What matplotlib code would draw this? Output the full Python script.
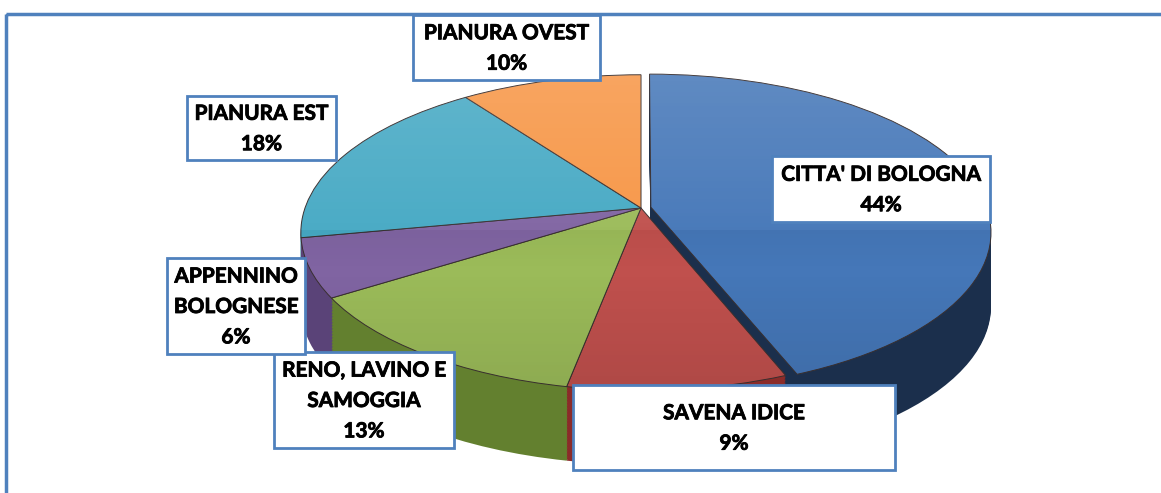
import numpy as np
import matplotlib.pyplot as plt
import matplotlib.patheffects as pe
from matplotlib.patches import Rectangle
from matplotlib.transforms import Transform, Affine2D

# data
labels = ["CITTA' DI BOLOGNA", "SAVENA IDICE", "RENO, LAVINO E\nSAMOGGIA",
          "APPENNINO\nBOLOGNESE", "PIANURA EST", "PIANURA OVEST"]
shares = [44, 9, 13, 6, 18, 10]
top_colors = ["#4577b8", "#c0504d", "#9bbb59", "#8064a2", "#46a9c4", "#f79646"]
side_colors = ["#1b2f4c", "#8b2b29", "#63802f", "#5a4378", "#2f7f96", "#b8692c"]
explode = [0.03, 0, 0, 0, 0, 0]

# label boxes in pixels (x0, y0, x1, y1)
boxes = [(772, 156, 990, 222), (573, 385, 895, 470), (274, 352, 454, 448),
         (167, 258, 305, 354), (187, 96, 336, 160), (413, 15, 600, 80)]


class Persp(Transform):
    # simple perspective tilt: back of the pie smaller than the front
    input_dims = output_dims = 2
    is_separable = False
    has_inverse = False

    def __init__(self, a):
        super().__init__()
        self.a = a

    def transform_non_affine(self, v):
        v = np.asarray(v, float)
        w = 1 + self.a * v[:, 1]
        return np.column_stack([v[:, 0] / w, v[:, 1] / w])


W, H = 1161, 493
fig = plt.figure(figsize=(W / 100, H / 100), dpi=100)
ax = fig.add_axes([0, 0, 1, 1])

cx, cy = 641, 208      # apex, px
sx, sy = 336, 154      # px per unit
depth = 74 / sy        # thickness
persp = Persp(0.156)

# side of the 3d pie: stack of dark pies
for d in np.linspace(depth, 0.005, 50):
    ws, _ = ax.pie(shares, colors=side_colors, startangle=90, counterclock=False,
                   explode=explode, wedgeprops=dict(linewidth=0))
    for w in ws:
        w.set_transform(persp + Affine2D().translate(0, -d) + ax.transData)

top, _ = ax.pie(shares, colors=top_colors, startangle=90, counterclock=False,
                explode=explode,
                wedgeprops=dict(edgecolor="#3a3030", linewidth=0.7))
for w in top:
    w.set_transform(persp + ax.transData)

# soft gradient on the top face
grad = np.zeros((100, 2, 4))
grad[:50, :, :3] = 1.0
grad[:, :, 3] = np.abs(np.linspace(0.16, -0.10, 100))[:, None]
for w in top:
    im = ax.imshow(grad, extent=(-1.3, 1.3, -1.3, 1.0), aspect="auto",
                   origin="upper", zorder=w.get_zorder() + 0.1)
    im.set_clip_path(w)

ax.set_aspect("auto")
ax.set_xlim(-cx / sx, (W - cx) / sx)
ax.set_ylim(-(H - cy) / sy, cy / sy)
ax.axis("off")

# overlay for frame and labels
ov = fig.add_axes([0, 0, 1, 1], zorder=5)
ov.set_xlim(0, W)
ov.set_ylim(H, 0)
ov.axis("off")
ov.patch.set_alpha(0)
ov.add_patch(Rectangle((6, 14), 1300, 600, fill=False, ec="#4f81bd", lw=2.5))

for lab, val, (x0, y0, x1, y1) in zip(labels, shares, boxes):
    ov.add_patch(Rectangle((x0, y0), x1 - x0, y1 - y0, fc="white",
                           ec="#4f81bd", lw=2))
    ov.text((x0 + x1) / 2, (y0 + y1) / 2 + 1, f"{lab}\n{val}%",
            ha="center", va="center", family="Lato", weight="bold",
            fontsize=15, linespacing=1.65, color="black",
            path_effects=[pe.withStroke(linewidth=0.6, foreground="black")])

fig.savefig("out.png", dpi=100)
